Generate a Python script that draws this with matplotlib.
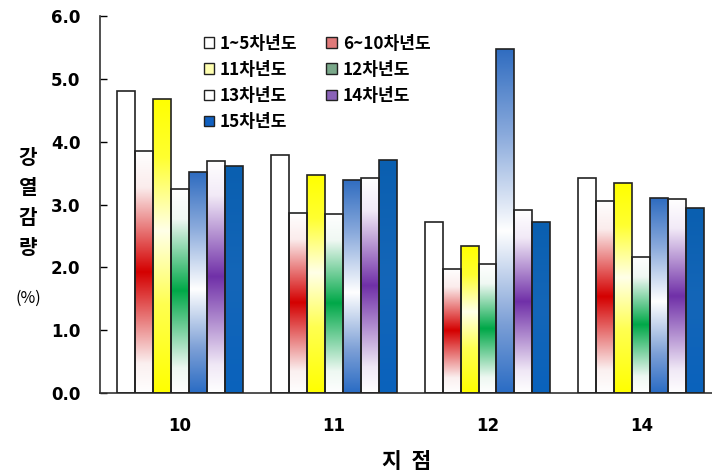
import numpy as np
import matplotlib
matplotlib.use("Agg")
import matplotlib.pyplot as plt
from matplotlib.colors import LinearSegmentedColormap
from matplotlib.patches import Patch

plt.rcParams['font.family'] = ['Noto Sans CJK KR', 'DejaVu Sans']

categories = ['10', '11', '12', '14']
series_names = ['1~5차년도', '6~10차년도', '11차년도', '12차년도', '13차년도', '14차년도', '15차년도']
values = {
    '1~5차년도':  [4.81, 3.78, 2.72, 3.42],
    '6~10차년도': [3.85, 2.87, 1.98, 3.06],
    '11차년도':   [4.68, 3.47, 2.34, 3.34],
    '12차년도':   [3.25, 2.85, 2.05, 2.17],
    '13차년도':   [3.51, 3.39, 5.48, 3.10],
    '14차년도':   [3.70, 3.42, 2.91, 3.08],
    '15차년도':   [3.61, 3.71, 2.72, 2.94],
}
yticks = [0.0, 1.0, 2.0, 3.0, 4.0, 5.0, 6.0]

# gradient stops (relative height 0=bottom, 1=top)
gradients = {
    '1~5차년도':  [(0, '#ffffff'), (1, '#ffffff')],
    '6~10차년도': [(0, '#ffffff'), (0.12, '#fbf0f0'), (0.5, '#d40000'), (0.85, '#fbecec'), (1, '#ffffff')],
    '11차년도':   [(0, '#ffff00'), (0.3, '#ffff50'), (0.55, '#ffffe8'), (0.8, '#ffff30'), (1, '#ffff00')],
    '12차년도':   [(0, '#ffffff'), (0.12, '#eef8f2'), (0.5, '#00a848'), (0.85, '#f0f8f3'), (1, '#ffffff')],
    '13차년도':   [(0, '#2a6cc4'), (0.2, '#7c9fd6'), (0.47, '#ffffff'), (0.75, '#8aaadc'), (1, '#2f6cc0')],
    '14차년도':   [(0, '#ffffff'), (0.12, '#f0e8f6'), (0.5, '#7030a8'), (0.85, '#f2eaf7'), (1, '#ffffff')],
    '15차년도':   [(0, '#0a62bc'), (0.5, '#1466b8'), (1, '#0a5fb0')],
}
legend_colors = ['#ffffff', '#e07a7a', '#ffffb0', '#7aa88a', '#ffffff', '#8a62b8', '#1060c0']

fig = plt.figure(figsize=(7.12, 4.75), dpi=100)
ax = fig.add_axes([100/712, 1-393/475, 612/712, 377/475])

n = len(series_names)
width = 0.117
x = np.arange(len(categories))
for i, name in enumerate(series_names):
    offs = (i - (n - 1) / 2) * width
    bars = ax.bar(x + offs, values[name], width, facecolor='none',
                  edgecolor='#222222', linewidth=1.2, zorder=3)
    stops = gradients[name]
    cmap = LinearSegmentedColormap.from_list(name, stops)
    grad = np.linspace(0, 1, 256).reshape(-1, 1)
    for b in bars:
        x0, w, h = b.get_x(), b.get_width(), b.get_height()
        im = ax.imshow(grad, cmap=cmap, vmin=0, vmax=1, origin='lower',
                       extent=[x0, x0 + w, 0, h], aspect='auto', zorder=2,
                       interpolation='bilinear')
        im.set_clip_path(b)

num_font = {'family': 'DejaVu Sans', 'weight': 'bold', 'size': 12}
ax.set_xlim(-0.52, 3.46)
ax.set_ylim(0, 6.0)
ax.set_yticks(yticks)
ax.set_yticklabels([f'{v:.1f}' for v in yticks], fontdict=num_font)
ax.set_xticks(x)
ax.set_xticklabels(categories, fontdict=num_font)
ax.tick_params(axis='y', direction='in', length=5, width=1, pad=14)
ax.tick_params(axis='x', length=0, pad=17)
ax.spines['top'].set_visible(False)
ax.spines['right'].set_visible(False)
for s in ['left', 'bottom']:
    ax.spines[s].set_color('#333333')
    ax.spines[s].set_linewidth(1.2)

order = [0, 2, 4, 6, 1, 3, 5]
handles = [Patch(facecolor=legend_colors[k], edgecolor='#222222', linewidth=1.0) for k in order]
labels = [series_names[k] for k in order]
leg = ax.legend(handles, labels, ncol=2, loc='upper left',
                bbox_to_anchor=(0.158, 0.968), frameon=False,
                prop={'size': 12.3, 'weight': 'bold'},
                handlelength=0.6, handleheight=0.6, handletextpad=0.35,
                labelspacing=0.47, columnspacing=1.7, borderaxespad=0)

fig.text(28/712, 1-157/475, '강', fontsize=14.5, fontweight='bold', ha='center', va='center')
fig.text(28/712, 1-187/475, '열', fontsize=14.5, fontweight='bold', ha='center', va='center')
fig.text(28/712, 1-217/475, '감', fontsize=14.5, fontweight='bold', ha='center', va='center')
fig.text(28/712, 1-247/475, '량', fontsize=14.5, fontweight='bold', ha='center', va='center')
fig.text(28/712, 1-298/475, '(%)', fontsize=11.5, ha='center', va='center')
fig.text(407/712, 1-461/475, '지  점', fontsize=15.5, fontweight='bold', ha='center', va='center')

fig.savefig('out.png', dpi=100)
